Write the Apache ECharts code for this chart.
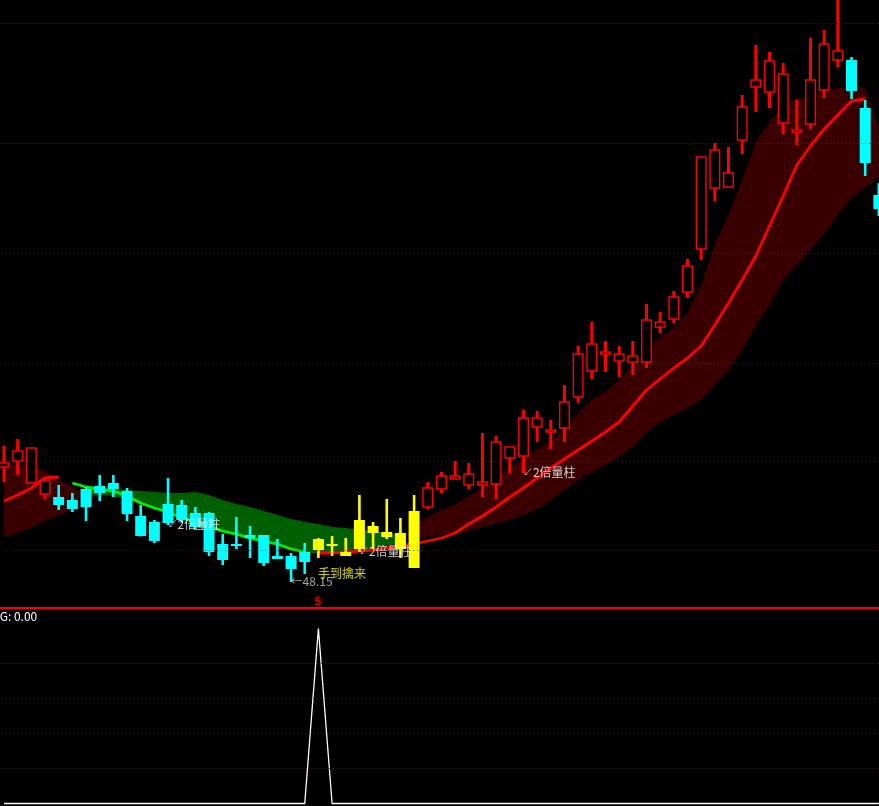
<!DOCTYPE html>
<html>
<head>
<meta charset="utf-8">
<script src="https://cdn.jsdelivr.net/npm/echarts@6/dist/echarts.min.js"></script>
<style>
html,body{margin:0;padding:0;background:#000;}
#c{width:879px;height:806px;}
</style>
</head>
<body>
<div id="c"></div>
<script>
// ---------------- data ----------------
const categories = ['1','2','3','4','5','6','7','8','9','10','11','12','13','14','15','16','17','18','19','20','21','22','23','24','25','26','27','28','29','30','31','32','33','34','35','36','37','38','39','40','41','42','43','44','45','46','47','48','49','50','51','52','53','54','55','56','57','58','59','60','61','62','63','64','65'];

const openP = [59.65,60.25,58.05,56.95,56.65,56.35,57.45,57.75,58.05,57.25,
  54.75,54.15,55.95,55.85,55.05,55.05,51.95,51.95,52.85,52.85,
  50.75,50.75,51.15,51.35,51.75,50.75,51.45,53.05,52.65,51.45,
  49.55,55.65,57.45,58.45,57.85,57.85,57.95,60.55,60.75,63.65,
  63.15,63.55,66.65,69.25,70.95,70.25,70.15,70.15,73.65,74.45,
  77.15,81.45,87.55,87.65,92.35,97.65,97.15,94.05,93.15,93.95,
  97.35,100.35,100.35,95.55,86.85];
const closeP = [60.05,61.25,61.55,58.25,55.85,55.45,55.65,57.05,57.45,54.95,
  52.75,52.25,54.05,54.35,53.65,51.15,50.35,51.75,52.55,50.05,
  50.45,49.45,50.15,52.45,51.95,51.15,54.35,53.75,53.15,53.05,
  55.25,57.55,58.75,58.75,58.95,58.15,62.15,61.65,64.55,64.55,
  63.35,66.15,70.95,71.95,71.15,70.95,70.75,74.35,74.15,76.65,
  79.75,90.65,91.35,89.05,95.65,98.35,100.25,98.95,93.35,98.35,
  101.95,101.25,97.25,90.05,85.45];
const lowP = [58.15,58.85,58.05,56.45,55.35,55.15,54.25,56.25,56.65,54.25,
  52.70,52.05,53.85,54.05,53.35,50.75,49.85,51.45,50.55,49.75,
  50.45,48.15,48.95,50.55,50.75,50.75,51.15,51.45,52.45,50.55,
  49.55,55.45,57.05,58.45,57.45,56.65,56.45,59.05,59.05,62.15,
  61.45,62.15,66.05,68.45,69.15,68.65,68.85,69.55,73.05,74.05,
  76.55,80.35,86.25,87.65,90.95,95.15,95.55,92.95,91.85,93.45,
  96.55,99.65,96.45,88.75,84.75];
const highP = [61.75,62.45,61.55,58.25,57.85,57.05,57.65,58.85,58.85,57.55,
  55.85,54.35,58.55,56.35,55.65,55.15,52.95,54.65,53.75,52.85,
  52.45,51.05,52.05,52.55,52.75,52.55,56.85,54.15,56.45,54.55,
  56.85,58.15,59.15,60.25,60.05,63.05,62.75,61.65,65.35,65.25,
  64.35,67.85,71.75,74.15,72.25,71.75,72.25,75.95,75.15,77.25,
  80.45,90.65,92.05,91.65,96.85,101.85,101.15,100.05,96.35,102.55,
  103.35,107.00,100.65,96.35,88.05];
// 1 = candle painted yellow by the signal zone
const paintYellow = [0,0,0,0,0,0,0,0,0,0, 0,0,0,0,0,0,0,0,0,0, 0,0,0,1,1,1,1,1,1,1,
  1,0,0,0,0,0,0,0,0,0, 0,0,0,0,0,0,0,0,0,0, 0,0,0,0,0,0,0,0,0,0, 0,0,0,0,0];

// moving average and its trend state (1 rising=red, -1 falling=green, 0 not drawn)
const maValues = [56.25,56.85,57.55,58.55,58.65,58.05,57.65,57.45,57.25,56.75,
  56.05,55.55,55.15,54.55,54.15,53.75,53.25,52.95,52.55,52.25,
  51.95,51.45,51.15,51.05,51.05,51.15,51.25,51.35,51.55,51.75,
  51.95,52.25,52.55,53.05,53.95,54.75,55.65,56.65,57.55,58.55,
  59.55,60.45,61.35,62.25,63.15,64.15,65.75,67.35,68.45,69.55,
  70.55,71.75,73.85,76.05,78.35,80.75,83.75,86.75,89.85,91.75,
  93.45,94.85,96.25,96.45,94.75];
const maTrend = [1,1,1,1,1,-1,-1,-1,-1,-1, -1,-1,-1,-1,-1,-1,-1,-1,-1,-1, -1,-1,-1,1,1,1,1,1,1,1,
  1,1,1,1,1,1,1,1,1,1, 1,1,1,1,1,1,1,1,1,1, 1,1,1,1,1,1,1,1,1,1, 1,1,1,1,0];

// band edges (fast line / slow line)
const bandFast = [60.05,59.85,59.65,59.25,58.35,57.65,56.85,56.85,56.75,56.45,
  55.95,55.55,55.15,54.45,53.95,53.55,53.05,52.75,52.35,52.05,
  51.75,51.35,51.05,51.05,51.15,51.25,51.35,51.55,51.75,52.05,
  53.85,54.65,55.35,55.85,56.75,57.55,58.55,59.55,60.45,61.35,
  62.35,63.45,64.95,66.35,67.15,68.35,69.85,71.35,72.65,73.55,
  75.05,77.85,81.85,84.85,88.35,92.05,94.15,95.75,96.45,96.85,
  97.35,97.55,97.75,97.55,93.65];
const bandSlow = [52.65,53.05,53.55,54.25,54.85,55.35,57.55,57.35,57.45,57.35,
  57.25,57.15,57.05,57.05,57.15,56.85,56.35,55.95,55.65,55.25,
  54.85,54.45,54.15,53.95,53.65,53.55,53.35,53.25,53.05,52.85,
  52.65,52.65,52.85,53.05,53.25,53.65,53.95,54.35,54.85,55.45,
  56.35,57.35,58.35,59.15,59.85,60.65,61.65,63.05,64.15,64.85,
  65.55,66.35,67.85,69.35,71.35,73.85,75.85,78.35,79.85,81.35,
  83.05,84.85,86.55,87.55,88.65];

// text annotations
const annIndex = [12, 26, 38, 21, 23];
const annPrice = [53.85, 51.15, 59.05, 48.15, 48.95];
const annText  = ['↙2倍量柱', '↙2倍量柱', '↙2倍量柱', '←48.15', '手到擒来'];
const annKind  = ['vol', 'vol', 'vol', 'low', 'buy'];
const sigIndex = [23];
const sigPrice = [46.15];
const sigText  = ['$'];

// horizontal grid levels
const priceGrid = [104.0, 92.0, 81.0, 70.0, 60.2, 51.3];

// lower indicator XG
const xgValues = [0,0,0,0,0,0,0,0,0,0, 0,0,0,0,0,0,0,0,0,0, 0,0,0,1,0,0,0,0,0,0,
  0,0,0,0,0,0,0,0,0,0, 0,0,0,0,0,0,0,0,0,0, 0,0,0,0,0,0,0,0,0,0, 0,0,0,0,0];
const xgGrid = [0.2, 0.4, 0.6, 0.8];

// ---------------- chart ----------------
const FONT = "'Noto Sans CJK SC', 'Noto Sans', sans-serif";
const chart = echarts.init(document.getElementById('c'), null, {renderer: 'canvas'});

const candleData = categories.map((_, i) => [i, openP[i], closeP[i], lowP[i], highP[i], paintYellow[i]]);
const maRed = maValues.map((v, i) => maTrend[i] === 1 ? v : null);
const maGreen = maValues.map((v, i) => maTrend[i] === -1 ? v : null);

function renderBand(params, api) {
  const pts = bandFast.map((a, i) => ({
    a: api.coord([i, a]), b: api.coord([i, bandSlow[i]]), d: a - bandSlow[i]
  }));
  const polys = [];
  let cur = {sign: pts[0].d >= 0, top: [pts[0].a], bot: [pts[0].b]};
  for (let i = 1; i < pts.length; i++) {
    const s = pts[i].d >= 0;
    if (s !== cur.sign) {
      const t = pts[i-1].d / (pts[i-1].d - pts[i].d);
      const cx = pts[i-1].a[0] + t * (pts[i].a[0] - pts[i-1].a[0]);
      const cy = pts[i-1].a[1] + t * (pts[i].a[1] - pts[i-1].a[1]);
      cur.top.push([cx, cy]); cur.bot.push([cx, cy]);
      polys.push(cur);
      cur = {sign: s, top: [[cx, cy]], bot: [[cx, cy]]};
    }
    cur.top.push(pts[i].a); cur.bot.push(pts[i].b);
  }
  polys.push(cur);
  return {
    type: 'group',
    children: polys.map(p => ({
      type: 'polygon',
      shape: {points: p.top.concat(p.bot.slice().reverse())},
      style: {fill: p.sign ? '#3a0000' : '#006000'},
      silent: true
    }))
  };
}

function renderCandle(params, api) {
  const i = api.value(0);
  const o = api.value(1), c = api.value(2), l = api.value(3), h = api.value(4), yel = api.value(5);
  const pO = api.coord([i, o]);
  const x = pO[0];
  const yO = pO[1], yC = api.coord([i, c])[1], yL = api.coord([i, l])[1], yH = api.coord([i, h])[1];
  const top = Math.min(yO, yC), bot = Math.max(yO, yC);
  const bh = Math.max(bot - top, 1.5);
  const up = c > o;
  const ch = [];
  if (yel || !up) {
    const col = yel ? '#ffff00' : '#00ffff';
    ch.push({type: 'rect', shape: {x: x - 1.3, y: yH, width: 2.6, height: yL - yH}, style: {fill: col}});
    ch.push({type: 'rect', shape: {x: x - 5.5, y: top, width: 11, height: bh}, style: {fill: col}});
  } else {
    const col = '#ff0000';
    if (top - yH > 0.5) ch.push({type: 'rect', shape: {x: x - 1.5, y: yH, width: 3, height: top - yH}, style: {fill: col}});
    if (yL - bot > 0.5) ch.push({type: 'rect', shape: {x: x - 1.5, y: bot, width: 3, height: yL - bot}, style: {fill: col}});
    ch.push({type: 'rect', shape: {x: x - 4.8, y: top, width: 9.6, height: bh}, style: {fill: '#000', stroke: col, lineWidth: 1.4}});
  }
  return {type: 'group', children: ch};
}

const kindStyle = {
  vol: {color: '#ffffff'},
  low: {color: '#c8c8c8'},
  buy: {color: '#ffff00'}
};
const annData = annIndex.map((idx, k) => {
  const txt = annText[k];
  const st = kindStyle[annKind[k]];
  let formatter = txt;
  if (annKind[k] === 'vol') formatter = '{a|' + txt.charAt(0) + '}{b|' + txt.slice(1) + '}';
  return {
    value: [idx, annPrice[k]],
    label: {
      show: true, formatter: formatter, color: st.color,
      position: [0, 0], align: 'left', verticalAlign: 'middle',
      fontSize: 12, fontFamily: FONT,
      rich: {
        a: {color: '#b8b8b8', fontSize: 10, fontFamily: FONT},
        b: {color: '#ffffff', fontSize: 12, fontFamily: FONT}
      }
    }
  };
});
const sigData = sigIndex.map((idx, k) => ({
  value: [idx, sigPrice[k]],
  label: {
    show: true, formatter: sigText[k], color: '#ff0000',
    position: [0, 0], align: 'center', verticalAlign: 'middle',
    fontSize: 12, fontWeight: 'bold', fontFamily: 'DejaVu Sans, sans-serif'
  }
}));

const gridPos = {left: -2.835, right: -6.7};

const option = {
  backgroundColor: '#000000',
  animation: false,
  grid: [
    {left: gridPos.left, right: gridPos.right, top: 0, height: 608, containLabel: false, outerBoundsMode: 'none'},
    {left: gridPos.left, right: gridPos.right, top: 609, height: 197, containLabel: false, outerBoundsMode: 'none'}
  ],
  xAxis: [
    {type: 'category', gridIndex: 0, data: categories, boundaryGap: true,
     axisLine: {show: true, lineStyle: {color: '#ff0000', width: 2}},
     axisTick: {show: false}, axisLabel: {show: false}, splitLine: {show: false}},
    {type: 'category', gridIndex: 1, data: categories, boundaryGap: true, show: false}
  ],
  yAxis: [
    {type: 'value', gridIndex: 0, min: 45.55, max: 106.35, show: false, splitLine: {show: false}},
    {type: 'value', gridIndex: 1, min: -0.01429, max: 1.11143, show: false, splitLine: {show: false}}
  ],
  series: [
    {
      type: 'line', xAxisIndex: 0, yAxisIndex: 0, z: 1, silent: true,
      data: categories.map(() => null), symbol: 'none',
      markLine: {
        silent: true, symbol: ['none', 'none'], label: {show: false},
        lineStyle: {color: '#8c0a0a', type: [1, 3], width: 1},
        data: priceGrid.map(v => ({yAxis: v}))
      }
    },
    {
      type: 'custom', xAxisIndex: 0, yAxisIndex: 0, z: 2, silent: true,
      renderItem: renderBand, data: [[0, bandFast[0]]], encode: {x: 0, y: 1}
    },
    {
      type: 'line', xAxisIndex: 0, yAxisIndex: 0, z: 3, silent: true,
      data: maRed, symbol: 'none', connectNulls: false,
      lineStyle: {color: '#ff0000', width: 2.8}
    },
    {
      type: 'line', xAxisIndex: 0, yAxisIndex: 0, z: 3, silent: true,
      data: maGreen, symbol: 'none', connectNulls: false,
      lineStyle: {color: '#00f000', width: 2.8}
    },
    {
      type: 'custom', xAxisIndex: 0, yAxisIndex: 0, z: 4, silent: true,
      renderItem: renderCandle, data: candleData, encode: {x: 0, y: [1, 2, 3, 4]}
    },
    {
      type: 'scatter', xAxisIndex: 0, yAxisIndex: 0, z: 6, silent: true,
      symbolSize: 1, itemStyle: {color: 'rgba(0,0,0,0)'}, data: annData
    },
    {
      type: 'scatter', xAxisIndex: 0, yAxisIndex: 0, z: 6, silent: true,
      symbolSize: 1, itemStyle: {color: 'rgba(0,0,0,0)'}, data: sigData
    },
    {
      type: 'line', xAxisIndex: 1, yAxisIndex: 1, z: 3, silent: true,
      data: xgValues, symbol: 'none',
      lineStyle: {color: '#ffffff', width: 1.3},
      markLine: {
        silent: true, symbol: ['none', 'none'], label: {show: false},
        lineStyle: {color: '#8c0a0a', type: [1, 3], width: 1},
        data: xgGrid.map(v => ({yAxis: v}))
      }
    }
  ],
  graphic: [
    {type: 'text', left: -7, top: 610, silent: true,
     style: {text: 'XG: 0.00', fill: '#ffffff', font: '12px ' + FONT}}
  ]
};
chart.setOption(option);
</script>
</body>
</html>
